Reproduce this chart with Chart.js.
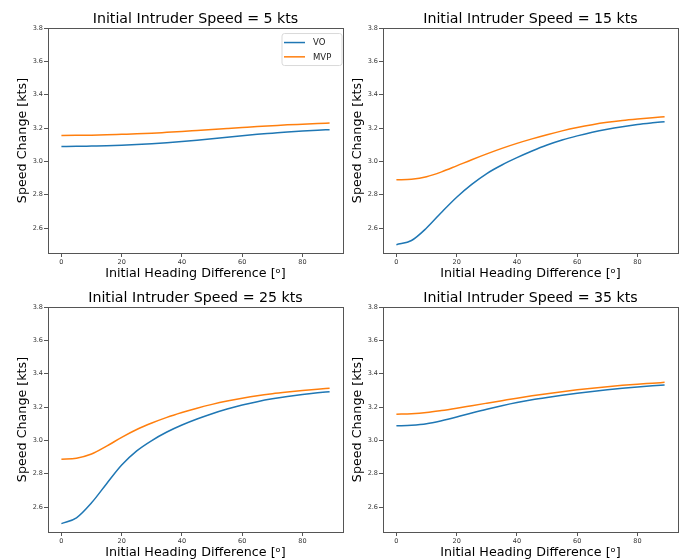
<!DOCTYPE html>
<html lang="en">
<head>
<meta charset="utf-8">
<title>Speed Change vs Heading Difference</title>
<script src="https://cdn.jsdelivr.net/npm/chart.js@4.4.0/dist/chart.umd.min.js"></script>
<style>
  body { margin: 0; background: #fff; }
  canvas { position: absolute; }
</style>
</head>
<body>
<canvas id="c5" width="345" height="280" style="left:0px;top:0px"></canvas>
<canvas id="c15" width="345" height="280" style="left:335px;top:0px"></canvas>
<canvas id="c25" width="345" height="280" style="left:0px;top:279px"></canvas>
<canvas id="c35" width="345" height="280" style="left:335px;top:279px"></canvas>
<script>
// data
const headings = [0, 5, 10, 15, 20, 25, 30, 35, 40, 45, 50, 55, 60, 65, 70, 75, 80, 85, 89];
const speeds = [5, 15, 25, 35];
const seriesNames = ['VO', 'MVP'];
const vo5   = [3.089, 3.090, 3.092, 3.094, 3.097, 3.101, 3.106, 3.112, 3.119, 3.127, 3.136, 3.145, 3.154, 3.162, 3.169, 3.176, 3.182, 3.187, 3.190];
const mvp5  = [3.155, 3.156, 3.157, 3.159, 3.162, 3.165, 3.169, 3.174, 3.179, 3.185, 3.191, 3.197, 3.203, 3.209, 3.214, 3.219, 3.223, 3.227, 3.230];
const vo15  = [2.500, 2.525, 2.600, 2.695, 2.785, 2.862, 2.927, 2.978, 3.022, 3.062, 3.098, 3.128, 3.153, 3.175, 3.193, 3.208, 3.221, 3.231, 3.238];
const mvp15 = [2.889, 2.893, 2.908, 2.937, 2.973, 3.010, 3.045, 3.078, 3.108, 3.135, 3.160, 3.183, 3.203, 3.220, 3.234, 3.245, 3.254, 3.262, 3.268];
const vo25  = [2.500, 2.535, 2.625, 2.740, 2.852, 2.937, 2.999, 3.050, 3.092, 3.128, 3.160, 3.188, 3.212, 3.232, 3.249, 3.263, 3.275, 3.285, 3.292];
const mvp25 = [2.887, 2.893, 2.918, 2.965, 3.018, 3.065, 3.104, 3.138, 3.167, 3.193, 3.216, 3.236, 3.253, 3.268, 3.280, 3.290, 3.299, 3.307, 3.313];
const vo35  = [3.087, 3.091, 3.100, 3.118, 3.140, 3.164, 3.187, 3.208, 3.227, 3.243, 3.257, 3.270, 3.282, 3.293, 3.303, 3.312, 3.320, 3.327, 3.332];
const mvp35 = [3.157, 3.160, 3.167, 3.179, 3.193, 3.208, 3.223, 3.238, 3.253, 3.267, 3.280, 3.292, 3.303, 3.313, 3.322, 3.330, 3.337, 3.343, 3.348];
const xTicks = [0, 20, 40, 60, 80];
const yTicks = [2.6, 2.8, 3.0, 3.2, 3.4, 3.6, 3.8];

const FONT = 'DejaVu Sans';
const blue = '#1f77b4';
const orange = '#ff7f0e';

// box around the axes, like matplotlib spines
const framePlugin = {
  id: 'frame',
  afterDatasetsDraw(chart) {
    const a = chart.chartArea;
    const ctx = chart.ctx;
    ctx.save();
    ctx.strokeStyle = '#555';
    ctx.lineWidth = 1;
    ctx.strokeRect(Math.round(a.left) + 0.5, Math.round(a.top) + 0.5,
      Math.round(a.right - a.left), Math.round(a.bottom - a.top));
    ctx.restore();
  }
};

// small legend box in the upper right corner
const cornerLegend = {
  id: 'cornerLegend',
  afterDraw(chart, args, opts) {
    if (!opts.show) return;
    const a = chart.chartArea;
    const ctx = chart.ctx;
    const w = 60, h = 32;
    const x = a.right - 1.5 - w, y = a.top + 5;
    ctx.save();
    ctx.fillStyle = 'rgba(255,255,255,0.8)';
    ctx.strokeStyle = '#d9d9d9';
    ctx.lineWidth = 1;
    ctx.beginPath();
    ctx.roundRect(x + 0.5, y + 0.5, w, h, 2.5);
    ctx.fill();
    ctx.stroke();
    ctx.font = '8.5px ' + FONT;
    ctx.textBaseline = 'middle';
    chart.data.datasets.forEach((ds, i) => {
      const ry = y + 9.5 + i * 14.3;
      ctx.strokeStyle = ds.borderColor;
      ctx.lineWidth = 1.5;
      ctx.beginPath();
      ctx.moveTo(x + 2.5, ry);
      ctx.lineTo(x + 23.5, ry);
      ctx.stroke();
      ctx.fillStyle = '#222';
      ctx.fillText(ds.label, x + 31.5, ry + 0.5);
    });
    ctx.restore();
  }
};

function toPoints(vals) {
  return headings.map((h, i) => ({ x: h, y: vals[i] }));
}

function makePanel(id, speed, vo, mvp, showLegend) {
  return new Chart(document.getElementById(id), {
    type: 'line',
    data: {
      datasets: [
        { label: seriesNames[0], data: toPoints(vo), borderColor: blue, borderWidth: 1.5,
          pointRadius: 0, cubicInterpolationMode: 'monotone', fill: false },
        { label: seriesNames[1], data: toPoints(mvp), borderColor: orange, borderWidth: 1.5,
          pointRadius: 0, cubicInterpolationMode: 'monotone', fill: false }
      ]
    },
    options: {
      responsive: false,
      animation: false,
      devicePixelRatio: 1,
      layout: { padding: { left: 0, right: 2, top: 0, bottom: 0 } },
      scales: {
        x: {
          type: 'linear',
          min: -4.45,
          max: 93.45,
          afterBuildTicks: s => { s.ticks = xTicks.map(v => ({ value: v })); },
          afterFit: s => { s.height = 27; },
          border: { display: false },
          grid: { drawOnChartArea: false, drawTicks: true, tickLength: 4, color: '#555' },
          ticks: { font: { family: FONT, size: 6.5 }, color: '#333', padding: 1, maxRotation: 0,
            callback: v => String(v) },
          title: { display: true, text: 'Initial Heading Difference [ᵒ]',
            font: { family: FONT, size: 12.7, lineHeight: 1 }, color: '#000',
            padding: { top: 0, bottom: 0 } }
        },
        y: {
          min: 2.45,
          max: 3.8,
          afterBuildTicks: s => { s.ticks = yTicks.map(v => ({ value: v })); },
          afterFit: s => { s.width = 48; },
          border: { display: false },
          grid: { drawOnChartArea: false, drawTicks: true, tickLength: 4, color: '#555' },
          ticks: { font: { family: FONT, size: 6.5 }, color: '#333', padding: 1,
            callback: v => v.toFixed(1) },
          title: { display: true, text: 'Speed Change [kts]',
            font: { family: FONT, size: 12.7, lineHeight: 1 }, color: '#000',
            padding: { top: 16, bottom: 0 } }
        }
      },
      plugins: {
        legend: { display: false },
        tooltip: { enabled: false },
        title: {
          display: true,
          fullSize: false,
          text: 'Initial Intruder Speed = ' + speed + ' kts',
          font: { family: FONT, size: 14.2, weight: 'normal' },
          color: '#000',
          padding: { top: 10.5, bottom: 0.5 }
        },
        cornerLegend: { show: showLegend }
      }
    },
    plugins: [framePlugin, cornerLegend]
  });
}

makePanel('c5', speeds[0], vo5, mvp5, true);
makePanel('c15', speeds[1], vo15, mvp15, false);
makePanel('c25', speeds[2], vo25, mvp25, false);
makePanel('c35', speeds[3], vo35, mvp35, false);
</script>
</body>
</html>
